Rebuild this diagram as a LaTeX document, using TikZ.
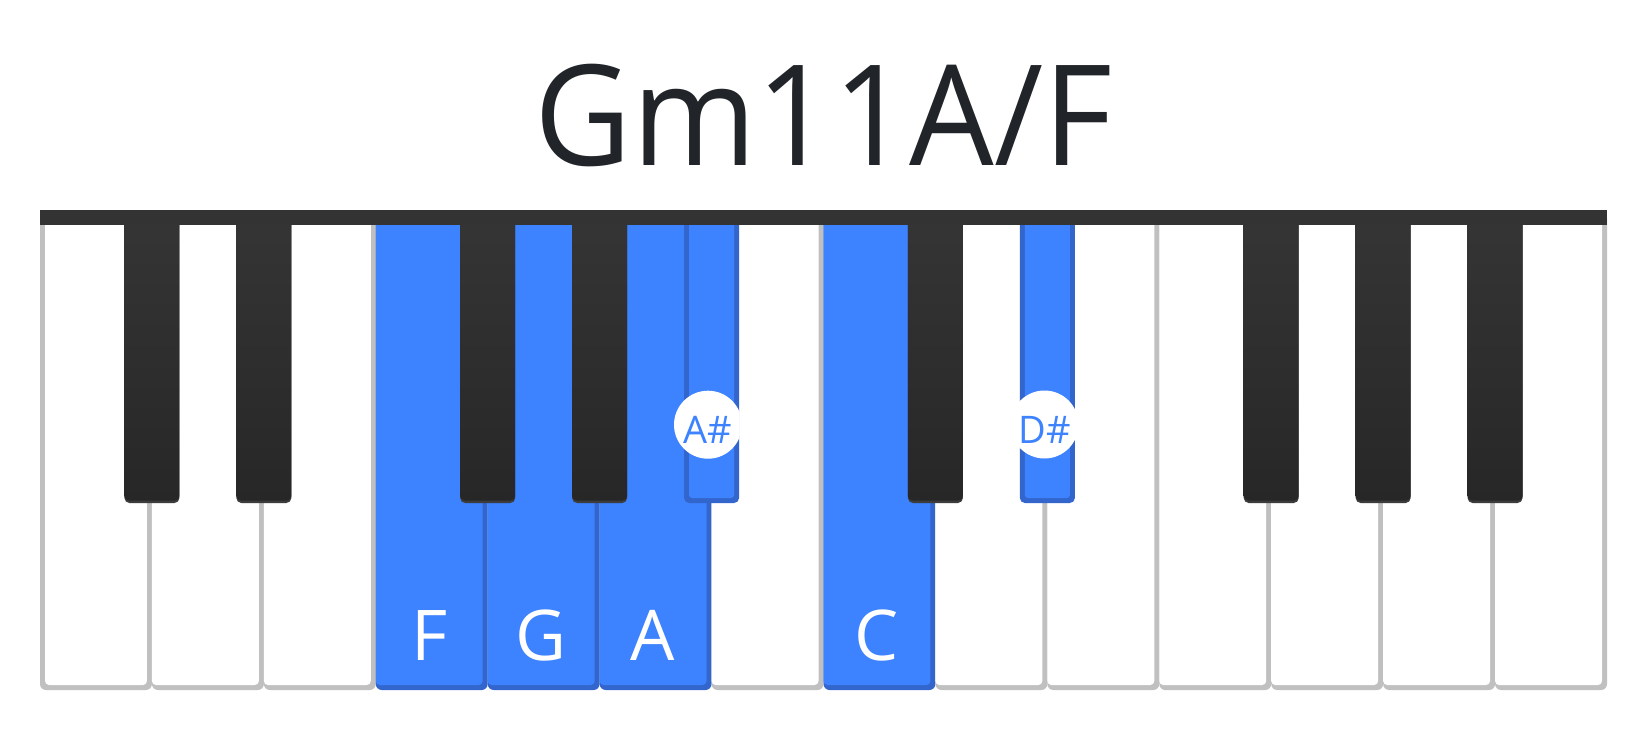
\documentclass[tikz,border=0pt]{standalone}
\usepackage{fontspec}
\setmainfont{Open Sans}
\definecolor{wborder}{HTML}{C0C0C0}
\definecolor{bborder}{HTML}{3366CC}
\definecolor{keyblue}{HTML}{3D82FE}
\definecolor{titlecol}{HTML}{212529}
\definecolor{barcol}{HTML}{333333}
\definecolor{blacktop}{HTML}{353535}
\definecolor{blackbot}{HTML}{272727}
\definecolor{blackedge}{HTML}{3C3C3C}
\tikzset{
  whitelabel/.style={font=\fontsize{70pt}{84pt}\selectfont, text=white, anchor=base, inner sep=0pt},
  blacklabel/.style={font=\fontsize{38pt}{45pt}\selectfont, text=keyblue, anchor=base, inner sep=0pt},
  titlelabel/.style={font=\fontsize{140pt}{168pt}\selectfont, text=titlecol, anchor=base, inner sep=0pt, xscale=0.955}
}
\begin{document}
\begin{tikzpicture}[x=1pt,y=1pt]
\useasboundingbox (0,0) rectangle (1650,-740);
\fill[white] (0,0) rectangle (1650,-740);
% white keys
\foreach \k/\bc/\fc in {0/wborder/white,1/wborder/white,2/wborder/white,3/bborder/keyblue,4/bborder/keyblue,5/bborder/keyblue,6/wborder/white,7/bborder/keyblue,8/wborder/white,9/wborder/white,10/wborder/white,11/wborder/white,12/wborder/white,13/wborder/white}{
  \pgfmathsetmacro\xa{40+\k*111.9286}
  \pgfmathsetmacro\xb{\xa+111.9286}
  \pgfmathsetmacro\xl{\k==0 ? \xa+5 : \xa}
  \pgfmathsetmacro\xr{\xb-5}
  \fill[\bc, rounded corners=6pt] (\xa,-212) -- (\xa,-690) -- (\xb,-690) -- (\xb,-212) -- cycle;
  \fill[\fc, rounded corners=4pt] (\xl,-212) -- (\xl,-685) -- (\xr,-685) -- (\xr,-212) -- cycle;
}
% black keys
\foreach \b/\kind in {1/0,2/0,4/0,5/0,6/1,8/0,9/1,11/0,12/0,13/0}{
  \pgfmathsetmacro\xc{40+\b*111.9286}
  \pgfmathsetmacro\xa{\xc-27.5}
  \pgfmathsetmacro\xb{\xc+27.5}
  \pgfmathsetmacro\xai{\xa+5}
  \pgfmathsetmacro\xbi{\xb-5}
  \ifnum\kind=1
    \fill[bborder, rounded corners=5pt] (\xa,-212) rectangle (\xb,-503);
    \fill[keyblue, rounded corners=3pt] (\xai,-212) rectangle (\xbi,-498);
  \else
    \fill[blackedge, rounded corners=5pt] (\xa,-212) rectangle (\xb,-503);
    \shade[top color=blacktop, bottom color=blackbot, rounded corners=4.5pt] (\xa,-212) rectangle (\xb,-500.5);
  \fi
}
% top bar
\fill[barcol] (40,-210) rectangle (1607,-225);
% label circles
\begin{scope}
  \clip (600,-380) rectangle (739.5,-470);
  \fill[white] (708,-424.7) circle[radius=34pt];
\end{scope}
\begin{scope}
  \clip (1019,-380) rectangle (1075,-470);
  \fill[white] (1044.5,-424.5) circle[radius=34pt];
\end{scope}
\node[blacklabel] (lAs) at (708,-443) {A\#};
\node[blacklabel] (lDs) at (1044.5,-443) {D\#};
% white key labels
\node[whitelabel] (lF) at (429.3,-660) {F};
\node[whitelabel] (lG) at (541.2,-660) {G};
\node[whitelabel] (lA) at (653.1,-660) {A};
\node[whitelabel] (lC) at (877,-660) {C};
% title
\node[titlelabel] (title) at (823.5,-165) {Gm11A/F};
\end{tikzpicture}
\end{document}
